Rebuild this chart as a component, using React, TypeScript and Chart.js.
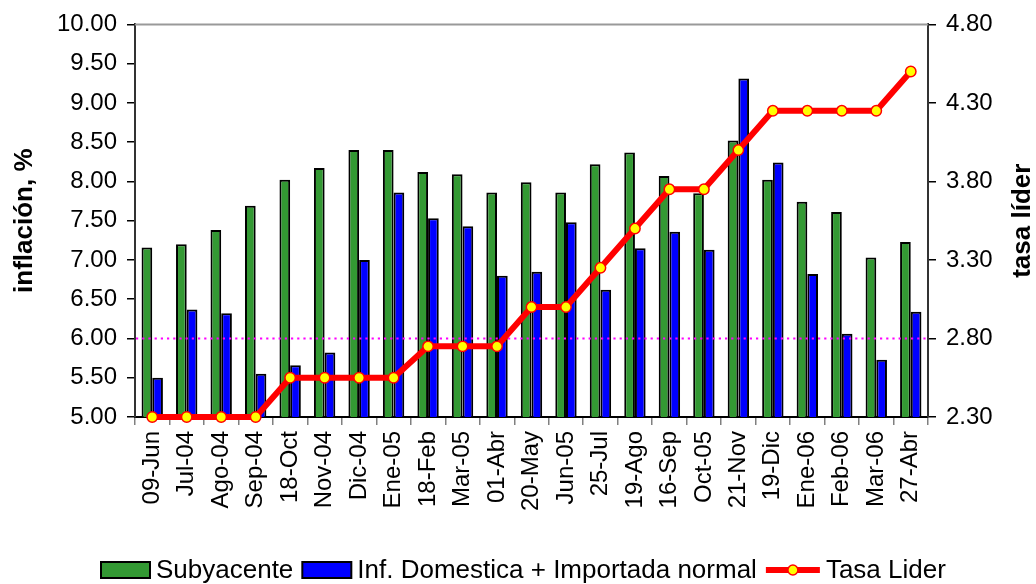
import React, { useEffect, useRef } from 'react';
import { Chart, registerables } from 'chart.js';

Chart.register(...registerables);

const categories = ['09-Jun', 'Jul-04', 'Ago-04', 'Sep-04', '18-Oct', 'Nov-04', 'Dic-04', 'Ene-05', '18-Feb', 'Mar-05', '01-Abr', '20-May', 'Jun-05', '25-Jul', '19-Ago', '16-Sep', 'Oct-05', '21-Nov', '19-Dic', 'Ene-06', 'Feb-06', 'Mar-06', '27-Abr'];
const subyacente = [7.16, 7.20, 7.38, 7.69, 8.02, 8.17, 8.40, 8.40, 8.12, 8.09, 7.86, 7.99, 7.86, 8.22, 8.37, 8.07, 7.85, 8.52, 8.02, 7.74, 7.61, 7.03, 7.23];
const domestica = [5.50, 6.37, 6.32, 5.55, 5.66, 5.82, 7.00, 7.86, 7.53, 7.43, 6.80, 6.85, 7.48, 6.62, 7.15, 7.36, 7.13, 9.31, 8.24, 6.82, 6.06, 5.73, 6.34];
const tasaLider = [2.30, 2.30, 2.30, 2.30, 2.55, 2.55, 2.55, 2.55, 2.75, 2.75, 2.75, 3.00, 3.00, 3.25, 3.50, 3.75, 3.75, 4.00, 4.25, 4.25, 4.25, 4.25, 4.50];
const metaInflacion = 6.0;
const leftAxis = { min: 5.0, max: 10.0, step: 0.5 };
const rightAxis = { min: 2.3, max: 4.8, step: 0.5 };
const seriesNames = ['Subyacente', 'Inf. Domestica + Importada normal', 'Tasa Lider'];
const leftTitle = 'inflación, %';
const rightTitle = 'tasa líder';

const GREEN = '#339933';
const BLUE = '#0000FF';
const RED = '#FF0000';
const YELLOW = '#FFFF00';
const FONT = '"Liberation Sans", Arial, Helvetica, sans-serif';

const decorPlugin = {
  id: 'decor',
  beforeDatasetDraw(chart: any, args: any) {
    if (args.index !== 2) return;
    const { ctx, chartArea } = chart;
    const y = chart.scales.y.getPixelForValue(metaInflacion);
    ctx.save();
    ctx.strokeStyle = '#FF00FF';
    ctx.lineWidth = 2;
    ctx.setLineDash([2.2, 4]);
    ctx.beginPath();
    ctx.moveTo(chartArea.left + 1, y);
    ctx.lineTo(chartArea.right - 1, y);
    ctx.stroke();
    ctx.restore();
  },
  afterDraw(chart: any) {
    const { ctx, chartArea } = chart;
    ctx.save();
    // top border of plot area
    ctx.strokeStyle = '#999999';
    ctx.lineWidth = 2;
    ctx.beginPath();
    ctx.moveTo(chartArea.left, chartArea.top);
    ctx.lineTo(chartArea.right, chartArea.top);
    ctx.stroke();

    // axis titles
    const midY = (chartArea.top + chartArea.bottom) / 2;
    ctx.fillStyle = '#000';
    ctx.font = `bold 26px ${FONT}`;
    ctx.textAlign = 'center';
    ctx.textBaseline = 'middle';
    ctx.save();
    ctx.translate(25, midY);
    ctx.rotate(-Math.PI / 2);
    ctx.fillText(leftTitle, 0, 0);
    ctx.restore();
    ctx.save();
    ctx.translate(1023, midY);
    ctx.rotate(-Math.PI / 2);
    ctx.fillText(rightTitle, 0, 0);
    ctx.restore();

    // legend
    const ly = 570;
    ctx.font = `26px ${FONT}`;
    ctx.textAlign = 'left';
    ctx.textBaseline = 'middle';
    let x = 101;
    const boxW = 49;
    const boxH = 16;
    const colors = [GREEN, BLUE];
    for (let i = 0; i < 2; i++) {
      ctx.fillStyle = colors[i];
      ctx.fillRect(x, ly - boxH / 2, boxW, boxH);
      ctx.strokeStyle = '#000';
      ctx.lineWidth = 2;
      ctx.strokeRect(x, ly - boxH / 2, boxW, boxH);
      x += boxW + 6;
      ctx.fillStyle = '#000';
      ctx.fillText(seriesNames[i], x, ly + 1);
      x += ctx.measureText(seriesNames[i]).width + 9;
    }
    ctx.strokeStyle = RED;
    ctx.lineWidth = 6;
    ctx.beginPath();
    ctx.moveTo(x, ly);
    ctx.lineTo(x + 54, ly);
    ctx.stroke();
    ctx.beginPath();
    ctx.arc(x + 27, ly, 5, 0, Math.PI * 2);
    ctx.fillStyle = YELLOW;
    ctx.fill();
    ctx.lineWidth = 1.5;
    ctx.strokeStyle = RED;
    ctx.stroke();
    x += 54 + 6;
    ctx.fillStyle = '#000';
    ctx.fillText(seriesNames[2], x, ly + 1);
    ctx.restore();
  },
};

export default function App() {
  const ref = useRef<HTMLCanvasElement | null>(null);
  useEffect(() => {
    if (!ref.current) return;
    const tickFont = { family: FONT, size: 24 };
    const chart = new Chart(ref.current, {
      type: 'bar',
      data: {
        labels: categories,
        datasets: [
          {
            type: 'bar',
            label: seriesNames[0],
            data: subyacente,
            backgroundColor: GREEN,
            borderColor: '#000',
            borderWidth: 2,
            yAxisID: 'y',
            order: 1,
            barPercentage: 1.0,
            categoryPercentage: 0.62,
          },
          {
            type: 'bar',
            label: seriesNames[1],
            data: domestica,
            backgroundColor: BLUE,
            borderColor: '#000',
            borderWidth: 2,
            yAxisID: 'y',
            order: 1,
            barPercentage: 1.0,
            categoryPercentage: 0.62,
          },
          {
            type: 'line',
            label: seriesNames[2],
            data: tasaLider,
            borderColor: RED,
            borderWidth: 6,
            pointRadius: 5.2,
            pointBackgroundColor: YELLOW,
            pointBorderColor: RED,
            pointBorderWidth: 1.5,
            yAxisID: 'y1',
            order: 0,
            tension: 0,
            clip: false,
          } as any,
        ],
      },
      options: {
        responsive: false,
        animation: false,
        devicePixelRatio: 1,
        layout: { padding: { top: 23, bottom: 67, left: 0, right: 0 } },
        plugins: {
          legend: { display: false },
          tooltip: { enabled: false },
          title: { display: false },
        },
        scales: {
          x: {
            offset: true,
            grid: {
              offset: true,
              drawOnChartArea: false,
              drawTicks: true,
              tickLength: 8,
              color: '#808080',
              lineWidth: 1.5,
            },
            border: { display: true, color: '#000', width: 2 },
            ticks: {
              color: '#000',
              font: tickFont,
              maxRotation: 90,
              minRotation: 90,
              autoSkip: false,
              padding: 6,
            },
            afterFit(scale: any) {
              scale.height = 100;
            },
          },
          y: {
            position: 'left',
            min: leftAxis.min,
            max: leftAxis.max,
            grid: {
              drawOnChartArea: false,
              drawTicks: true,
              tickLength: 8,
              color: '#000',
              lineWidth: 1.5,
            },
            border: { display: true, color: '#333', width: 2 },
            ticks: {
              stepSize: leftAxis.step,
              color: '#000',
              font: tickFont,
              padding: 10,
              callback: (v: any) => Number(v).toFixed(2),
            },
            afterFit(scale: any) {
              scale.width = 135;
            },
          },
          y1: {
            position: 'right',
            min: rightAxis.min,
            max: rightAxis.max,
            grid: {
              drawOnChartArea: false,
              drawTicks: true,
              tickLength: 8,
              color: '#000',
              lineWidth: 1.5,
            },
            border: { display: true, color: '#333', width: 2 },
            ticks: {
              stepSize: rightAxis.step,
              color: '#000',
              font: tickFont,
              padding: 10,
              callback: (v: any) => Number(v).toFixed(2),
            },
            afterFit(scale: any) {
              scale.width = 108;
            },
          },
        },
      },
      plugins: [decorPlugin],
    });
    return () => chart.destroy();
  }, []);
  return (
    <div style={{ position: 'absolute', left: 0, top: 0, width: 1036, height: 584, background: '#fff' }}>
      <canvas ref={ref} width={1036} height={584} />
    </div>
  );
}
